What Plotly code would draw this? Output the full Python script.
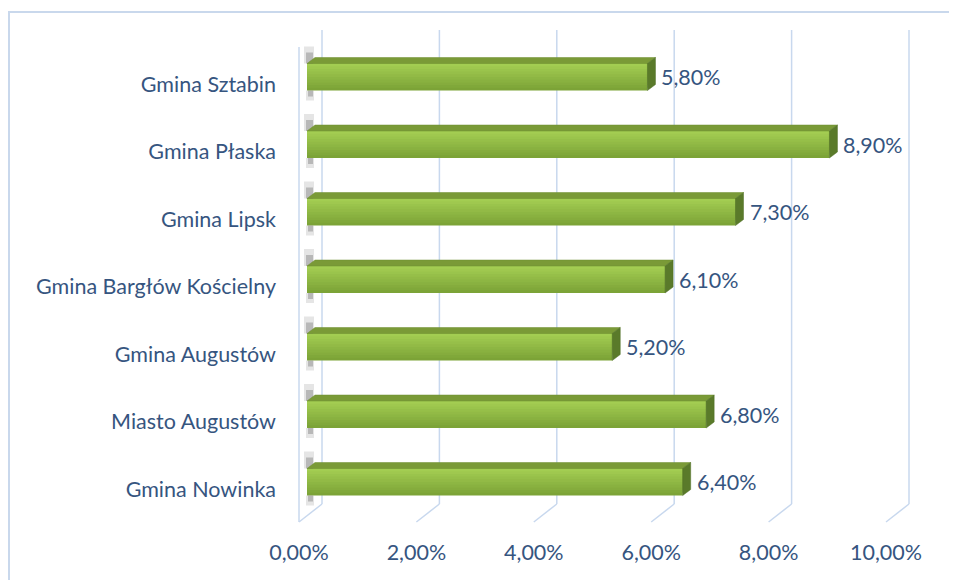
import plotly.graph_objects as go

# ---- data ----
categories = ["Gmina Sztabin", "Gmina Płaska", "Gmina Lipsk", "Gmina Bargłów Kościelny",
              "Gmina Augustów", "Miasto Augustów", "Gmina Nowinka"]
values = [0.058, 0.089, 0.073, 0.061, 0.052, 0.068, 0.064]
tick_values = [0.0, 0.02, 0.04, 0.06, 0.08, 0.10]

# ---- geometry ----
OFF = 8                                     # page body margin of the html output
W, H = 957 - OFF, 580 - OFF
# pixel positions below are screen pixels
S_PL, S_PR, S_PT, S_PB = 295, 915, 28, 524  # plot area
S_X0 = 307                                  # x = 0 (front of bars)
XPX = 5870.0                                # pixels per unit of x
YPX = 67.5                                  # pixels per category
S_Y0 = 489                                  # bottom category label centre

def dx(px):
    return px / XPX

def dy(px):
    return px / YPX

def yat(screen_px):
    return (S_Y0 - screen_px) / YPX

xr = [(S_PL - S_X0) / XPX, (S_PR - S_X0) / XPX]
yr = [yat(S_PB), yat(S_PT)]

n = len(categories)
pos = [n - 1 - i for i in range(n)]          # Sztabin on top
lift = dy(7)
ycen = [p + lift for p in pos]
half = dy(13.5)
ddx, ddy = dx(8), dy(6)

TEXT = "#36557F"
FONT = "Lato"
FSIZE = 21.5
GRID = "#C8D8EE"

fig = go.Figure()

# soft shadow on the side wall (above and below each bar)
def poly(xs, ys, color):
    fig.add_trace(go.Scatter(
        x=xs + [xs[0]], y=ys + [ys[0]], fill="toself", fillcolor=color,
        line=dict(width=0), mode="lines", hoverinfo="skip", showlegend=False))

for yc in ycen:
    yt, yb = yc + half, yc - half
    # above
    poly([dx(-3), dx(7), dx(7), dx(-3)], [yt, yt, yt + dy(17), yt + dy(17)], "rgba(150,150,150,0.25)")
    poly([dx(-1), dx(6), dx(6), dx(-1)], [yt, yt, yt + dy(11), yt + dy(11)], "rgba(100,100,100,0.35)")
    # below
    poly([dx(-1), dx(7), dx(7), dx(-1)], [yb - dy(10), yb - dy(10), yb, yb], "rgba(150,150,150,0.25)")
    poly([dx(1), dx(6), dx(6), dx(1)], [yb - dy(6), yb - dy(6), yb, yb], "rgba(100,100,100,0.35)")

# front face with vertical gradient (overlapping bands sharing the top edge)
top_c = (0xA3, 0xCD, 0x52)
bot_c = (0x7C, 0xA3, 0x37)
nb = 10
full = 2 * half
for k in range(nb):
    t = 1 - k / (nb - 1)
    c = tuple(round(top_c[j] + (bot_c[j] - top_c[j]) * t) for j in range(3))
    hgt = full * (nb - k) / nb
    fig.add_trace(go.Bar(
        x=values, y=ycen, orientation="h", base=0,
        width=hgt, offset=half - hgt,
        marker=dict(color="rgb(%d,%d,%d)" % c, line=dict(width=0)),
        hoverinfo="skip", showlegend=False))

# top face and end cap
for v, yc in zip(values, ycen):
    yt, yb = yc + half, yc - half
    fig.add_trace(go.Scatter(
        x=[0, ddx, v + ddx, v, 0], y=[yt, yt + ddy, yt + ddy, yt, yt],
        fill="toself", fillcolor="#7A9A37", line=dict(width=0.5, color="#6F8E30"),
        mode="lines", hoverinfo="skip", showlegend=False))
    fig.add_trace(go.Scatter(
        x=[v, v + ddx, v + ddx, v, v], y=[yt, yt + ddy, yb + ddy, yb, yt],
        fill="toself", fillcolor="#5A7A2A", line=dict(width=0.5, color="#4F6E24"),
        mode="lines", hoverinfo="skip", showlegend=False))

# value labels
for v, yc in zip(values, ycen):
    fig.add_annotation(x=v, y=yc, xref="x", yref="y", xanchor="left", yanchor="middle",
                       xshift=12, showarrow=False,
                       text=("%.2f" % (v * 100)).replace(".", ",") + "%",
                       font=dict(family=FONT, size=FSIZE, color=TEXT))

# 3-D style gridlines (back wall + floor diagonals)
for t in tick_values:
    fig.add_shape(type="line", xref="x", yref="y", x0=t + dx(15), x1=t + dx(15),
                  y0=yat(30), y1=yat(504), line=dict(color=GRID, width=1.5), layer="below")
    fig.add_shape(type="line", xref="x", yref="y", x0=t + dx(15), x1=t + dx(-8),
                  y0=yat(504), y1=yat(522), line=dict(color=GRID, width=1.5), layer="below")
# front edge of the side wall
fig.add_shape(type="line", xref="x", yref="y", x0=dx(-8), x1=dx(-8),
              y0=yat(47), y1=yat(522), line=dict(color=GRID, width=1.5), layer="below")

# outer chart frame
def paper_x(screen_px):
    return (screen_px - S_PL) / (S_PR - S_PL)

def paper_y(screen_px):
    return (S_PB - screen_px) / (S_PB - S_PT)

fig.add_shape(type="rect", xref="paper", yref="paper",
              x0=paper_x(OFF + 1), x1=paper_x(957 + 5),
              y0=paper_y(580 + 5), y1=paper_y(12),
              line=dict(color="#C9D8EC", width=2), fillcolor="rgba(0,0,0,0)", layer="below")

fig.update_layout(
    width=W, height=H,
    margin=dict(l=S_PL - OFF, r=957 - S_PR, t=S_PT - OFF, b=580 - S_PB, pad=0),
    paper_bgcolor="white", plot_bgcolor="white",
    barmode="overlay", separators=", ", showlegend=False,
    xaxis=dict(range=xr, tickvals=tick_values, tickformat=".2%", showgrid=False,
               zeroline=False, showline=False, ticks="", ticklabelshift=-8,
               ticklabelstandoff=13, tickfont=dict(family=FONT, size=FSIZE, color=TEXT)),
    yaxis=dict(range=yr, tickvals=pos, ticktext=categories, showgrid=False,
               zeroline=False, showline=False, ticks="", ticklabelstandoff=18,
               tickfont=dict(family=FONT, size=FSIZE, color=TEXT)),
)

fig.write_html("out.html")
